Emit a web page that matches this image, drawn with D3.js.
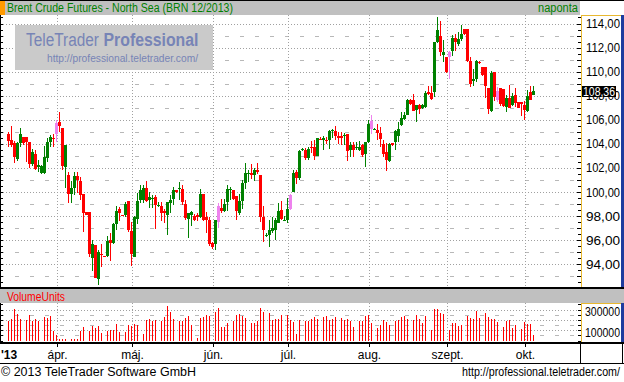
<!DOCTYPE html>
<html>
<head>
<meta charset="utf-8">
<script src="https://cdnjs.cloudflare.com/ajax/libs/d3/7.8.5/d3.min.js"></script>
<style>
  body { margin: 0; background: #fff; }
  svg { display: block; font-family: "Liberation Sans", Arial, sans-serif; }
</style>
</head>
<body>
<div id="chart"></div>
<script>
// ---- data (daily sessions, Sunday evening sessions included, Saturdays skipped) ----
var firstDay = "2013-03-11";
var lastDay = "2013-10-04";
var closedDays = ["2013-03-29", "2013-03-30", "2013-03-31", "2013-04-01"];

var open = [104.84,104.29,104.08,102.74,104.07,104.54,104.54,104.15,102.30,103.19,
  102.08,101.58,101.58,102.85,104.15,104.53,104.84,105.78,105.36,102.08,
  101.39,99.87,100.34,101.31,100.89,99.82,98.33,98.33,94.49,95.60,
  92.78,94.85,94.72,94.69,96.01,95.73,97.34,98.58,98.10,98.08,
  99.24,96.78,94.63,97.78,99.32,99.32,100.37,99.32,99.40,99.57,
  98.82,98.83,98.41,98.08,99.10,99.40,100.20,100.23,100.29,98.99,
  97.78,98.08,98.02,98.08,97.89,99.82,97.89,97.67,95.73,95.68,
  97.53,98.71,98.44,99.16,100.15,100.15,99.65,98.27,99.24,100.76,
  101.53,101.58,101.39,101.86,101.39,97.89,96.34,96.42,96.78,96.89,
  97.45,98.49,97.61,97.67,98.63,100.01,101.67,101.20,103.52,103.52,
  102.85,103.74,103.74,102.96,104.43,104.35,104.35,104.29,105.06,105.04,
  104.62,104.62,104.65,104.79,103.46,103.88,103.66,103.52,103.88,103.19,
  104.15,105.26,105.17,105.12,104.93,104.02,103.32,102.58,104.07,104.15,
  104.62,105.53,106.03,106.41,107.66,107.66,106.83,107.24,107.00,107.05,
  108.29,108.21,108.29,112.43,112.98,111.38,111.19,111.19,111.69,112.79,
  112.29,112.71,113.53,113.53,110.86,109.26,109.40,110.83,110.36,110.36,
  108.62,106.77,110.00,107.66,108.65,108.60,107.05,107.82,107.19,108.10,
  107.46,107.46,107.27,106.72,108.29,108.07];

var high = [104.95,105.45,104.20,104.15,105.28,104.54,104.60,104.15,103.60,103.46,
  102.69,102.22,103.79,104.51,104.73,104.84,106.00,106.61,105.36,103.87,
  101.67,100.89,101.67,101.67,101.25,99.82,98.33,98.33,96.01,95.60,
  95.18,95.68,94.72,96.34,96.56,97.45,98.83,98.77,98.10,99.18,
  99.24,97.53,98.05,99.93,100.56,100.56,100.89,99.98,99.74,99.74,
  99.18,99.18,98.63,99.16,99.79,100.40,100.20,100.84,100.62,99.32,
  98.27,98.41,98.14,98.22,100.23,99.87,98.33,97.94,95.87,97.72,
  99.10,99.46,99.46,100.56,100.43,100.20,99.65,99.87,100.98,102.41,
  101.80,102.36,101.99,102.41,101.39,98.83,96.56,97.72,97.89,97.86,
  99.10,99.24,98.00,99.52,99.82,101.80,101.80,103.52,103.70,103.68,
  103.74,104.23,104.34,104.51,104.57,104.62,104.57,105.17,105.23,105.45,
  104.98,104.95,104.90,104.84,104.15,104.15,104.15,104.23,104.02,104.15,
  105.95,106.36,105.31,105.67,105.39,104.35,104.07,104.07,104.10,105.12,
  105.86,106.64,106.69,107.74,107.71,108.15,107.27,107.33,107.33,108.43,
  108.84,108.84,112.43,114.50,114.17,112.62,111.19,111.74,113.07,113.12,
  113.26,113.89,113.53,113.53,111.24,110.22,110.97,110.91,110.36,110.36,
  108.62,110.08,110.00,108.76,108.65,108.60,108.02,108.92,108.24,108.65,
  107.46,107.46,107.60,108.48,108.84,108.81];

var low = [103.74,103.74,102.41,102.58,103.74,103.87,102.50,102.00,102.14,101.86,
  101.67,101.53,101.53,102.50,103.74,103.74,104.15,104.95,101.86,100.34,
  99.10,99.10,99.74,99.93,99.32,96.70,98.08,94.63,93.47,92.84,
  92.29,93.80,94.69,94.63,94.27,95.68,96.84,97.61,98.08,97.89,
  96.67,93.89,94.63,97.33,99.05,99.05,99.18,98.69,98.69,96.95,
  98.77,97.61,97.45,96.42,98.27,98.91,99.93,99.32,98.96,97.72,
  96.20,97.17,97.61,97.61,97.83,97.61,96.62,95.51,95.27,95.18,
  97.03,98.22,98.36,98.44,99.32,99.32,97.67,98.08,98.63,100.29,
  100.84,101.12,100.89,101.53,97.53,95.87,96.29,95.46,96.56,96.01,
  97.39,97.72,97.61,97.45,98.49,100.01,100.70,101.03,103.45,102.69,
  102.63,103.24,102.69,102.96,104.29,103.46,103.96,103.60,104.51,104.35,
  104.02,103.93,103.88,102.58,102.91,102.91,103.46,103.41,102.91,102.08,
  104.07,104.84,105.12,104.35,103.74,102.91,101.75,102.50,103.82,103.46,
  104.15,105.45,106.00,106.36,107.27,106.77,105.81,106.50,106.91,107.00,
  108.10,107.68,107.88,112.35,111.33,110.77,109.86,109.40,111.33,111.74,
  112.16,112.57,113.07,110.77,108.76,108.84,109.12,110.64,109.67,107.82,
  106.50,106.64,107.60,107.46,107.11,107.05,106.64,107.00,107.11,107.05,
  107.00,106.30,106.00,106.64,107.66,108.02];

var close = [104.23,103.93,102.91,104.07,104.79,104.07,104.15,102.30,103.30,101.94,
  102.22,102.16,102.91,104.15,104.56,104.50,105.75,105.45,102.16,103.87,
  99.87,100.34,101.31,100.98,99.79,98.27,98.08,94.85,95.68,92.89,
  95.02,94.77,94.69,95.96,95.79,97.34,98.41,98.22,98.08,98.99,
  96.84,94.85,97.89,99.24,100.20,100.37,99.27,99.60,99.51,98.91,
  98.91,98.22,98.27,99.16,99.38,100.20,100.01,100.34,99.18,97.83,
  98.22,98.36,97.67,97.94,99.87,97.72,97.72,95.68,95.40,97.67,
  98.88,98.41,98.99,100.29,100.29,99.46,98.44,99.24,100.76,101.58,
  101.58,101.39,101.86,101.64,97.89,96.84,96.42,96.84,97.03,97.67,
  98.41,97.80,97.67,98.63,99.74,101.58,101.20,103.41,103.60,102.83,
  103.60,103.68,102.99,104.51,104.29,104.48,104.29,105.04,105.12,104.62,
  104.51,104.51,104.71,103.41,103.93,103.52,103.74,103.74,103.10,104.15,
  105.67,105.89,105.26,104.90,104.43,103.13,102.63,104.02,103.88,105.04,
  105.26,106.17,106.41,107.66,107.33,106.77,107.24,106.91,107.19,108.21,
  108.15,107.74,112.43,113.48,111.60,111.60,109.95,111.60,112.79,112.43,
  112.71,113.12,113.12,110.86,108.98,109.40,110.91,110.77,109.75,108.84,
  106.86,109.86,107.88,108.43,107.33,107.11,107.82,107.00,107.96,107.38,
  107.00,107.33,106.83,107.96,107.68,108.36];

var volume = [193000,210000,308000,252000,210000,0,203000,243000,184000,210000,
  193000,0,223000,220000,233000,95000,56000,10000,10000,10000,
  0,10000,10000,10000,95000,131000,0,92000,144000,121000,
  144000,72000,0,95000,102000,102000,164000,85000,0,80000,
  154000,144000,164000,154000,0,59000,200000,210000,193000,200000,
  0,193000,230000,335000,272000,210000,0,184000,193000,220000,
  239000,154000,0,23000,220000,230000,249000,239000,0,279000,
  318000,131000,131000,170000,0,193000,246000,259000,239000,220000,
  0,170000,170000,184000,318000,279000,0,269000,200000,210000,
  210000,249000,0,249000,200000,180000,66000,200000,0,184000,
  184000,210000,230000,210000,0,230000,239000,200000,210000,230000,
  0,220000,200000,210000,193000,131000,0,193000,184000,239000,
  249000,170000,0,121000,151000,200000,180000,151000,0,190000,
  200000,230000,239000,210000,0,200000,249000,210000,170000,239000,
  0,102000,308000,308000,269000,259000,0,102000,170000,170000,
  141000,151000,0,239000,220000,210000,289000,220000,0,269000,
  230000,210000,210000,180000,0,131000,190000,200000,121000,151000,
  0,111000,180000,161000,161000,52000];

var pinkDays = ["2013-04-02", "2013-06-04", "2013-07-02", "2013-08-02", "2013-09-02", "2013-09-20"];

var monthKeys = ["2013-04", "2013-05", "2013-06", "2013-07", "2013-08", "2013-09", "2013-10"];
var monthLabels = ["ápr.", "máj.", "jún.", "júl.", "aug.", "szept.", "okt."];
var priceTicks = [94, 96, 98, 100, 102, 104, 106, 108, 110, 112, 114];
var volumeTicks = [100000, 200000, 300000];
var volumeLabels = [100000, 300000];

// ---- build the session list ----
function sessionDays(from, to, closed) {
    var out = [];
    var d = new Date(from + "T12:00:00Z"), end = new Date(to + "T12:00:00Z");
    while (d <= end) {
        var s = d.toISOString().slice(0, 10);
        if (d.getUTCDay() !== 6 && closed.indexOf(s) < 0) out.push(s);
        d.setUTCDate(d.getUTCDate() + 1);
    }
    return out;
}
var days = sessionDays(firstDay, lastDay, closedDays);
var bars = days.map(function(day, i) {
    return {day: day, o: open[i], h: high[i], l: low[i], c: close[i], v: volume[i]};
});

var W = 624, H = 382;
var main = {top: 15, bottom: 287, right: 580};
var vol = {top: 303, bottom: 342};

var x = d3.scaleBand().domain(days).range([7, 535]);
var y = d3.scaleLinear().domain([94, 114]).range([264.3, 23.5]);
var yv = d3.scaleLinear().domain([0, 300000]).range([340.5, 309.5]);

var svg = d3.select("#chart").append("svg").attr("width", W).attr("height", H);
svg.append("rect").attr("width", W).attr("height", H).attr("fill", "#fff");

// month gridline positions
var monthX = monthKeys.map(function(k) {
    var first = days.find(function(d) { return d.indexOf(k) === 0; });
    return x(first) + x.bandwidth() - 0.5;
});

// ---- title bar ----
svg.append("rect").attr("x", 0).attr("y", 1).attr("width", main.right).attr("height", 14).attr("fill", "#c0c0c0");
svg.append("rect").attr("x", 0).attr("y", 1).attr("width", 5).attr("height", 14).attr("fill", "#ff9a00");
svg.append("line").attr("x1", 0).attr("x2", W).attr("y1", 0.5).attr("y2", 0.5).attr("stroke", "#000");
svg.append("text").attr("x", 7).attr("y", 12).attr("font-size", 12).attr("fill", "#008000")
    .attr("textLength", 226).attr("lengthAdjust", "spacingAndGlyphs")
    .text("Brent Crude Futures - North Sea (BRN 12/2013)");
svg.append("text").attr("x", 578).attr("y", 12).attr("font-size", 12).attr("fill", "#008000")
    .attr("text-anchor", "end").attr("textLength", 40).attr("lengthAdjust", "spacingAndGlyphs").text("naponta");

// ---- main panel grid ----
var g = svg.append("g");
g.selectAll(".hdash").data(priceTicks.map(function(v) { return v - 1; }).concat([115])).enter().append("line")
    .attr("x1", 0).attr("x2", main.right)
    .attr("y1", function(d) { return Math.round(y(d)) + 0.5; }).attr("y2", function(d) { return Math.round(y(d)) + 0.5; })
    .attr("stroke", "#b8b8b8").attr("stroke-dasharray", "4,11").attr("stroke-dashoffset", -15)
    .style("display", function(d) { return y(d) > main.top && y(d) < main.bottom ? null : "none"; });
g.selectAll(".hgrid").data(priceTicks).enter().append("line")
    .attr("x1", 0).attr("x2", main.right)
    .attr("y1", function(d) { return Math.round(y(d)) + 0.5; }).attr("y2", function(d) { return Math.round(y(d)) + 0.5; })
    .attr("stroke", "#a0a0a0").attr("stroke-dasharray", "1,2");
g.selectAll(".vgrid").data(monthX).enter().append("line")
    .attr("x1", function(d) { return d; }).attr("x2", function(d) { return d; })
    .attr("y1", main.top).attr("y2", main.bottom)
    .attr("stroke", "#a0a0a0").attr("stroke-dasharray", "1,2");

// watermark
svg.append("rect").attr("x", 15).attr("y", 25).attr("width", 198).attr("height", 45).attr("fill", "#cacaca");
svg.append("text").attr("x", 26).attr("y", 46).attr("font-size", 18).attr("fill", "#7784b6")
    .attr("textLength", 73).attr("lengthAdjust", "spacingAndGlyphs").text("TeleTrader");
svg.append("text").attr("x", 103.5).attr("y", 46).attr("font-size", 18).attr("font-weight", "bold").attr("fill", "#7784b6")
    .attr("textLength", 95).attr("lengthAdjust", "spacingAndGlyphs").text("Professional");
svg.append("text").attr("x", 47).attr("y", 62).attr("font-size", 11).attr("fill", "#7784b6")
    .attr("textLength", 151).attr("lengthAdjust", "spacingAndGlyphs").text("http://professional.teletrader.com/");

// ---- candles ----
function candleColor(d) {
    if (pinkDays.indexOf(d.day) >= 0) return "#ee82ee";
    return d.c >= d.o ? "#008000" : "#ff0000";
}
var cg = svg.append("g");
cg.selectAll(".wick").data(bars).enter().append("rect")
    .attr("x", function(d) { return x(d.day) + 1; }).attr("width", 1)
    .attr("y", function(d) { return Math.round(y(d.h)); })
    .attr("height", function(d) { return Math.max(1, Math.round(y(d.l)) - Math.round(y(d.h))); })
    .attr("fill", candleColor);
cg.selectAll(".body").data(bars).enter().append("rect")
    .attr("x", function(d) { return x(d.day); }).attr("width", x.bandwidth())
    .attr("y", function(d) { return Math.round(y(Math.max(d.o, d.c))); })
    .attr("height", function(d) { return Math.max(1, Math.round(y(Math.min(d.o, d.c))) - Math.round(y(Math.max(d.o, d.c)))); })
    .attr("fill", candleColor);

// left ticks on the main panel
var halfTicks = d3.range(92.5, 115, 0.5).filter(function(v) { return y(v) > main.top + 1 && y(v) < main.bottom - 1; });
svg.selectAll(".lt").data(halfTicks).enter().append("line")
    .attr("x1", 0).attr("x2", 3)
    .attr("y1", function(d) { return Math.round(y(d)) + 0.5; }).attr("y2", function(d) { return Math.round(y(d)) + 0.5; })
    .attr("stroke", "#000");
svg.append("line").attr("x1", 0.5).attr("x2", 0.5).attr("y1", main.top).attr("y2", main.bottom).attr("stroke", "#000");

// ---- right price axis ----
svg.append("rect").attr("x", 581).attr("y", main.top).attr("width", 40).attr("height", main.bottom - main.top).attr("fill", "#fff");
svg.append("line").attr("x1", 581.5).attr("x2", 581.5).attr("y1", main.top).attr("y2", main.bottom).attr("stroke", "#e8b830");
svg.append("line").attr("x1", 581).attr("x2", 621).attr("y1", main.top + 0.5).attr("y2", main.top + 0.5).attr("stroke", "#e8b830");
svg.selectAll(".rt").data(halfTicks).enter().append("line")
    .attr("x1", function(d) { return d % 1 === 0 ? 577 : 578; }).attr("x2", 581)
    .attr("y1", function(d) { return Math.round(y(d)) + 0.5; }).attr("y2", function(d) { return Math.round(y(d)) + 0.5; })
    .attr("stroke", "#000");
svg.selectAll(".pl").data(priceTicks).enter().append("text")
    .attr("x", 620).attr("y", function(d) { return y(d) + 4.5; })
    .attr("text-anchor", "end").attr("font-size", 12).attr("fill", "#000")
    .attr("textLength", 34).attr("lengthAdjust", "spacingAndGlyphs")
    .text(function(d) { return d.toFixed(2).replace(".", ","); });

// last price tag (covers part of the 108,00 label, as in the original)
var last = bars[bars.length - 1];
svg.append("rect").attr("x", 582).attr("y", Math.round(y(last.c)) - 5).attr("width", 34).attr("height", 11).attr("fill", "#000");
svg.append("text").attr("x", 615).attr("y", y(last.c) + 4.5).attr("text-anchor", "end").attr("font-size", 12).attr("fill", "#fff")
    .attr("textLength", 32).attr("lengthAdjust", "spacingAndGlyphs")
    .text(last.c.toFixed(2).replace(".", ","));

// ---- volume panel ----
svg.append("rect").attr("x", 0).attr("y", 287).attr("width", W).attr("height", 2).attr("fill", "#000");
svg.append("rect").attr("x", 0).attr("y", 289).attr("width", W).attr("height", 14).attr("fill", "#c0c0c0");
svg.append("text").attr("x", 7).attr("y", 300.5).attr("font-size", 12).attr("fill", "#ff0000")
    .attr("textLength", 58).attr("lengthAdjust", "spacingAndGlyphs").text("VolumeUnits");

var vg = svg.append("g");
vg.selectAll(".vdash").data([50000, 150000, 250000]).enter().append("line")
    .attr("x1", 0).attr("x2", main.right)
    .attr("y1", function(d) { return Math.round(yv(d)) + 0.5; }).attr("y2", function(d) { return Math.round(yv(d)) + 0.5; })
    .attr("stroke", "#b8b8b8").attr("stroke-dasharray", "4,11").attr("stroke-dashoffset", -15);
vg.selectAll(".vgl").data(volumeTicks).enter().append("line")
    .attr("x1", 0).attr("x2", main.right)
    .attr("y1", function(d) { return Math.round(yv(d)) + 0.5; }).attr("y2", function(d) { return Math.round(yv(d)) + 0.5; })
    .attr("stroke", "#a0a0a0").attr("stroke-dasharray", "1,2");
vg.selectAll(".vvg").data(monthX).enter().append("line")
    .attr("x1", function(d) { return d; }).attr("x2", function(d) { return d; })
    .attr("y1", vol.top).attr("y2", vol.bottom)
    .attr("stroke", "#a0a0a0").attr("stroke-dasharray", "1,2");

vg.selectAll(".vbar").data(bars.filter(function(d) { return d.v > 0; })).enter().append("rect")
    .attr("x", function(d) { return x(d.day) + 1; }).attr("width", 1)
    .attr("y", function(d) { return Math.round(yv(d.v)); })
    .attr("height", function(d) { return Math.max(1, Math.round(yv(0)) - Math.round(yv(d.v))); })
    .attr("fill", "#ff0000");

var volHalf = d3.range(0, 400000, 50000).filter(function(v) { return yv(v) > vol.top + 1 && yv(v) < vol.bottom; });
svg.selectAll(".vlt").data(volHalf).enter().append("line")
    .attr("x1", 0).attr("x2", 3)
    .attr("y1", function(d) { return Math.round(yv(d)) + 0.5; }).attr("y2", function(d) { return Math.round(yv(d)) + 0.5; })
    .attr("stroke", "#000");
svg.append("line").attr("x1", 0.5).attr("x2", 0.5).attr("y1", vol.top).attr("y2", vol.bottom).attr("stroke", "#000");

svg.append("rect").attr("x", 581).attr("y", vol.top).attr("width", 40).attr("height", vol.bottom - vol.top).attr("fill", "#fff");
svg.append("line").attr("x1", 581.5).attr("x2", 581.5).attr("y1", vol.top).attr("y2", vol.bottom).attr("stroke", "#e8b830");
svg.append("line").attr("x1", 581).attr("x2", 621).attr("y1", vol.top + 0.5).attr("y2", vol.top + 0.5).attr("stroke", "#e8b830");
svg.selectAll(".vrt").data(volHalf).enter().append("line")
    .attr("x1", 578).attr("x2", 581)
    .attr("y1", function(d) { return Math.round(yv(d)) + 0.5; }).attr("y2", function(d) { return Math.round(yv(d)) + 0.5; })
    .attr("stroke", "#000");

// blue right border of both panels
svg.append("rect").attr("x", 621).attr("y", main.top).attr("width", 3).attr("height", main.bottom - main.top).attr("fill", "#1e3c9e");
svg.append("rect").attr("x", 621).attr("y", vol.top).attr("width", 3).attr("height", vol.bottom - vol.top).attr("fill", "#1e3c9e");

svg.selectAll(".vl").data(volumeLabels).enter().append("text")
    .attr("x", 620).attr("y", function(d) { return Math.min(yv(d) + 6.5, vol.bottom - 1); })
    .attr("text-anchor", "end").attr("font-size", 12).attr("fill", "#000")
    .attr("textLength", 35).attr("lengthAdjust", "spacingAndGlyphs")
    .text(function(d) { return d; });

// ---- time axis ----
svg.append("rect").attr("x", 0).attr("y", 342).attr("width", W).attr("height", 2).attr("fill", "#000");
svg.append("line").attr("x1", 0).attr("x2", W).attr("y1", 363.5).attr("y2", 363.5).attr("stroke", "#000");
svg.append("line").attr("x1", 580.5).attr("x2", 580.5).attr("y1", 344).attr("y2", 363).attr("stroke", "#000");
svg.append("line").attr("x1", 622.5).attr("x2", 622.5).attr("y1", 344).attr("y2", 363).attr("stroke", "#000");
svg.selectAll(".mt").data(monthX).enter().append("line")
    .attr("x1", function(d) { return d; }).attr("x2", function(d) { return d; })
    .attr("y1", 344).attr("y2", 347).attr("stroke", "#000");
svg.selectAll(".ml").data(monthLabels).enter().append("text")
    .attr("x", function(d, i) { return monthX[i]; }).attr("y", 359)
    .attr("text-anchor", "middle").attr("font-size", 12).attr("fill", "#000")
    .text(function(d) { return d; });
svg.append("text").attr("x", 1).attr("y", 359).attr("font-size", 12).attr("font-weight", "bold").attr("fill", "#000").text("'13");

// ---- footer ----
svg.append("text").attr("x", 1).attr("y", 376).attr("font-size", 12).attr("fill", "#000")
    .attr("textLength", 195).attr("lengthAdjust", "spacingAndGlyphs").text("© 2013 TeleTrader Software GmbH");
svg.append("text").attr("x", 620).attr("y", 376).attr("font-size", 12).attr("fill", "#000").attr("text-anchor", "end")
    .attr("textLength", 158).attr("lengthAdjust", "spacingAndGlyphs").text("http://professional.teletrader.com/");
</script>
</body>
</html>
